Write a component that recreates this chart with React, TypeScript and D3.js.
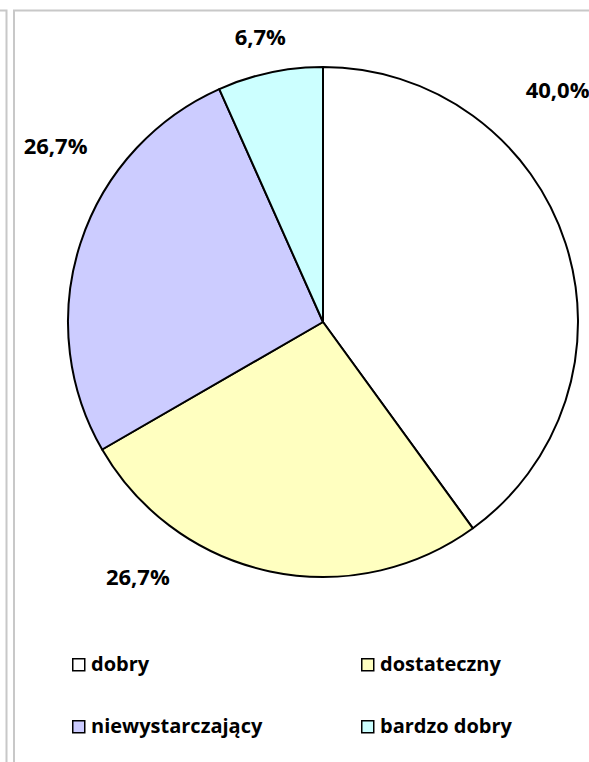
import React, { useEffect, useRef } from 'react';
import * as d3 from 'd3';

const categories = ['dobry', 'dostateczny', 'niewystarczający', 'bardzo dobry'];
const counts = [6, 4, 4, 1];
const percentLabels = ['40,0%', '26,7%', '26,7%', '6,7%'];
const colors = ['#FFFFFF', '#FFFFC0', '#CCCCFF', '#CCFFFF'];

// label placement (angle in degrees clockwise from top, distance from centre)
const labelAngles = [45.3, 216, 303.3, -12.4];
const labelRadii = [330, 315, 320, 292];

const W = 589;
const H = 762;

const App = () => {
  const ref = useRef<SVGSVGElement>(null);

  useEffect(() => {
    if (!ref.current) return;
    const svg = d3.select(ref.current);
    svg.selectAll('*').remove();

    const font = '"Open Sans", sans-serif';

    // outer frames
    svg.append('path')
      .attr('d', 'M0,10.5 H6.5 V762')
      .attr('fill', 'none').attr('stroke', '#c8c8c8').attr('stroke-width', 2);
    svg.append('path')
      .attr('d', 'M14,762 V10.5 H589')
      .attr('fill', 'none').attr('stroke', '#c8c8c8').attr('stroke-width', 2);

    const cx = 323, cy = 322, r = 255;
    const pie = d3.pie<number>().sort(null).value(d => d);
    const arcs = pie(counts);
    const arc = d3.arc<d3.PieArcDatum<number>>().innerRadius(0).outerRadius(r);

    const g = svg.append('g').attr('transform', `translate(${cx},${cy})`);
    g.selectAll('path.slice')
      .data(arcs)
      .enter().append('path')
      .attr('class', 'slice')
      .attr('d', arc)
      .attr('fill', (d, i) => colors[i])
      .attr('stroke', '#000')
      .attr('stroke-width', 2)
      .attr('stroke-linejoin', 'round');

    // percentage labels, vertically centred on the digits
    g.selectAll('text.lbl')
      .data(arcs)
      .enter().append('text')
      .attr('class', 'lbl')
      .attr('x', (d, i) => Math.sin(labelAngles[i] * Math.PI / 180) * labelRadii[i])
      .attr('y', (d, i) => -Math.cos(labelAngles[i] * Math.PI / 180) * labelRadii[i] + 8)
      .attr('text-anchor', 'middle')
      .attr('font-family', font)
      .attr('font-weight', 700)
      .attr('font-size', 22)
      .attr('fill', '#000')
      .text((d, i) => percentLabels[i]);

    // legend
    const legX = d3.scalePoint<number>().domain([0, 1]).range([72, 361]);
    const legY = d3.scalePoint<number>().domain([0, 1]).range([671, 733]);
    const leg = svg.append('g');
    categories.forEach((c, i) => {
      const x = legX(i % 2)!;
      const y = legY(Math.floor(i / 2))!;
      leg.append('rect')
        .attr('x', x + 0.75).attr('y', y - 12.25)
        .attr('width', 12).attr('height', 12)
        .attr('fill', colors[i]).attr('stroke', '#000').attr('stroke-width', 1.5);
      leg.append('text')
        .attr('x', x + 19).attr('y', y)
        .attr('font-family', font)
        .attr('font-weight', 700)
        .attr('font-size', 20)
        .attr('fill', '#000')
        .text(c);
    });
  }, []);

  return (
    <svg ref={ref} width={W} height={H} style={{ position: 'absolute', left: 0, top: 0, background: '#fff' }} />
  );
};

export default App;
